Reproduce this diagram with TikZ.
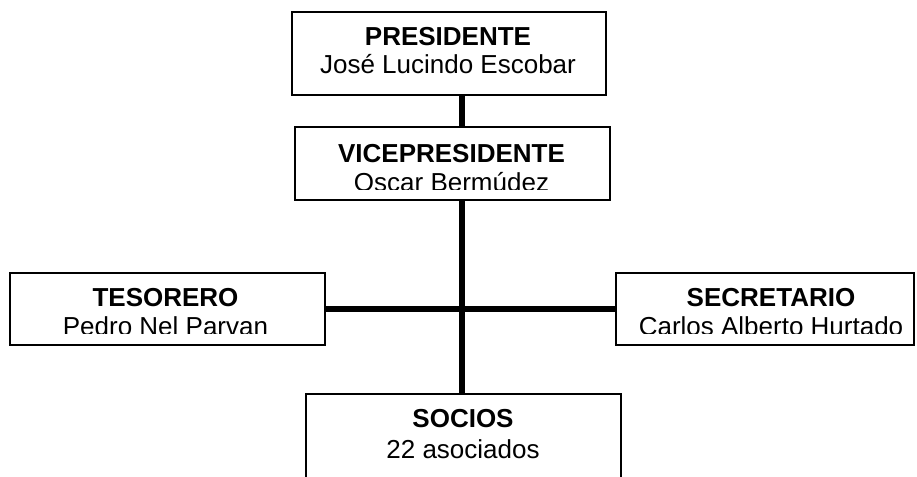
\documentclass[tikz,border=0pt]{standalone}
\usepackage{fontspec}
\setmainfont{Liberation Sans}
\usetikzlibrary{calc}
\begin{document}
\begin{tikzpicture}[x=1pt,y=-1pt,
  box/.style={draw=black, line width=2pt, rectangle, anchor=north west, inner sep=0pt},
  ttl/.style={anchor=base, inner sep=0pt, font=\fontsize{26}{29}\selectfont\bfseries},
  nm/.style={anchor=base, inner sep=0pt, font=\fontsize{26}{29}\selectfont},
  link/.style={line width=6pt, draw=black}]
\useasboundingbox (0,0) rectangle (917,476);
% boxes
\node[box, minimum width=314pt, minimum height=83pt] (pres) at (291,11) {};
\node[box, minimum width=315pt, minimum height=73pt] (vice) at (294,126) {};
\node[box, minimum width=315pt, minimum height=72pt] (teso) at (9,272) {};
\node[box, minimum width=298pt, minimum height=72pt] (secr) at (615,272) {};
\node[box, minimum width=315pt, minimum height=100pt] (soc) at (305,393) {};
% texts
\node[ttl] (prest) at (448,45.7) {PRESIDENTE};
\node[nm] (presn) at (448,74) {José Lucindo Escobar};
\begin{scope}
\clip (vice.north west) rectangle (609,189.5);
\node[ttl] (vicet) at (451.5,162) {VICEPRESIDENTE};
\node[nm] (vicen) at (451.5,191.5) {Oscar Bermúdez};
\end{scope}
\begin{scope}
\clip (teso.north west) rectangle (324,333);
\node[ttl] (tesot) at (165.5,306) {TESORERO};
\node[nm] (teson) at (165.5,335.5) {Pedro Nel Parvan};
\end{scope}
\begin{scope}
\clip (secr.north west) rectangle (913,333);
\node[ttl] (secrt) at (771,306) {SECRETARIO};
\node[nm] (secrn) at (771,335.5) {Carlos Alberto Hurtado};
\end{scope}
\node[ttl] (soct) at (463,427.3) {SOCIOS};
\node[nm] (socn) at (463,458.3) {22 asociados};
% connectors
\coordinate (sx) at (462,0);
\coordinate (hy) at (0,309);
\draw[link] (pres.south -| sx) -- (vice.north -| sx);
\draw[link] (vice.south -| sx) -- (soc.north -| sx);
\draw[link] (teso.east |- hy) -- (secr.west |- hy);
\end{tikzpicture}
\end{document}
